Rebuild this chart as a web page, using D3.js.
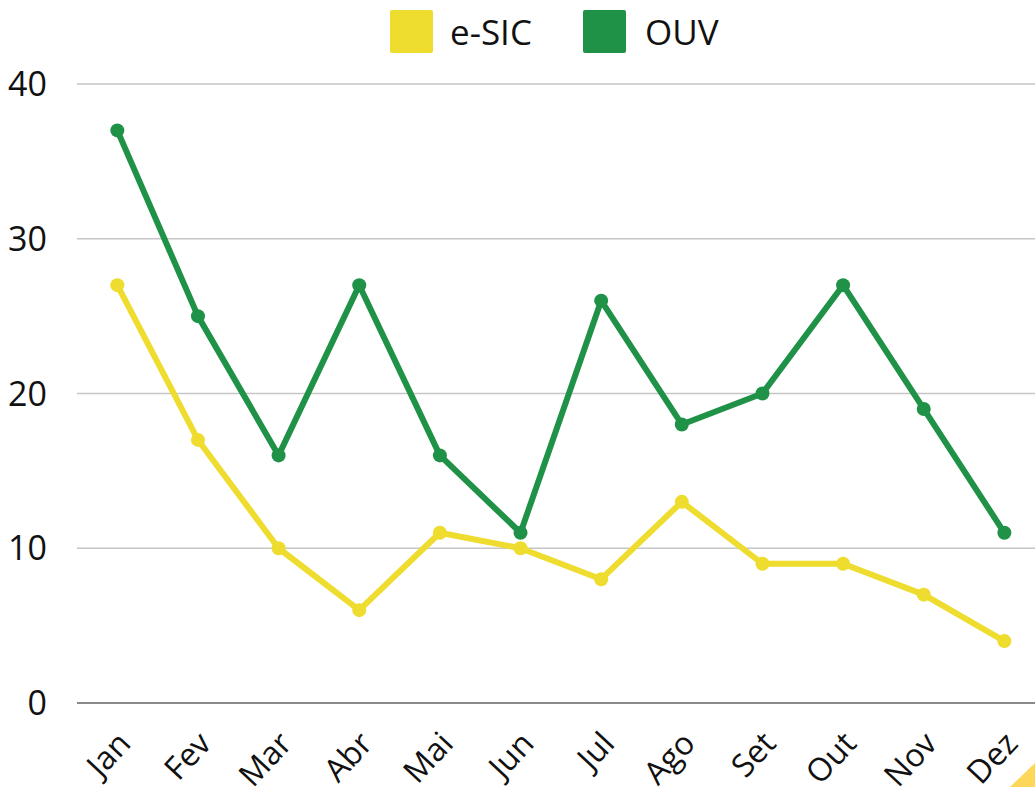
<!DOCTYPE html>
<html><head><meta charset="utf-8">
<script src="https://cdn.jsdelivr.net/npm/d3@7"></script>
<style>
html,body{margin:0;padding:0;background:#fff;overflow:hidden}
text{font-family:"Open Sans",sans-serif;fill:#111}
</style></head>
<body><svg id="c" width="1035" height="787"></svg>
<script>
const months = ["Jan","Fev","Mar","Abr","Mai","Jun","Jul","Ago","Set","Out","Nov","Dez"];
const esic = [27,17,10,6,11,10,8,13,9,9,7,4];
const ouv = [37,25,16,27,16,11,26,18,20,27,19,11];
const yTicks = [0,10,20,30,40];
const seriesNames = ["e-SIC","OUV"];
const colors = ["#EEDC2E","#1F9248"];

const svg = d3.select("#c");
const x = d3.scaleBand().domain(months).range([77, 1044.7]);
const y = d3.scaleLinear().domain([0,40]).range([703, 84]);
const cx = m => x(m) + x.bandwidth()/2;

// gridlines
svg.selectAll("line.grid").data(yTicks).enter().append("line")
  .attr("x1",77).attr("x2",1035)
  .attr("y1",d=>y(d)).attr("y2",d=>y(d))
  .attr("stroke",d=>d===0?"#8a8a8a":"#c6c6c6")
  .attr("stroke-width",d=>d===0?2:1.3);

svg.selectAll("text.yl").data(yTicks).enter().append("text")
  .attr("x",47).attr("y",d=>y(d)).attr("dy","0.36em")
  .attr("text-anchor","end").attr("font-size",34).text(d=>d);

svg.selectAll("text.xl").data(months).enter().append("text")
  .attr("text-anchor","end").attr("font-size",32)
  .attr("transform",d=>`translate(${cx(d)+15},${745}) rotate(-47)`)
  .text(d=>d);

// decoration triangle
svg.append("path").attr("d","M1010,787 L1035,763 L1035,787 Z").attr("fill","#FDD75A");

const line = d3.line().x((d,i)=>cx(months[i])).y(d=>y(d));
[esic, ouv].forEach((s,k)=>{
  svg.append("path").datum(s).attr("d",line).attr("fill","none")
    .attr("stroke",colors[k]).attr("stroke-width",6).attr("stroke-linejoin","round");
  svg.selectAll(null).data(s).enter().append("circle")
    .attr("cx",(d,i)=>cx(months[i])).attr("cy",d=>y(d)).attr("r",7).attr("fill",colors[k]);
});

// legend
const leg = [{x:390,tx:450},{x:583,tx:645}];
seriesNames.forEach((n,k)=>{
  svg.append("rect").attr("x",leg[k].x).attr("y",10).attr("width",43).attr("height",43)
    .attr("rx",2).attr("fill",colors[k]);
  svg.append("text").attr("x",leg[k].tx).attr("y",32).attr("dy","0.36em")
    .attr("font-size",35).text(n);
});
</script></body></html>
